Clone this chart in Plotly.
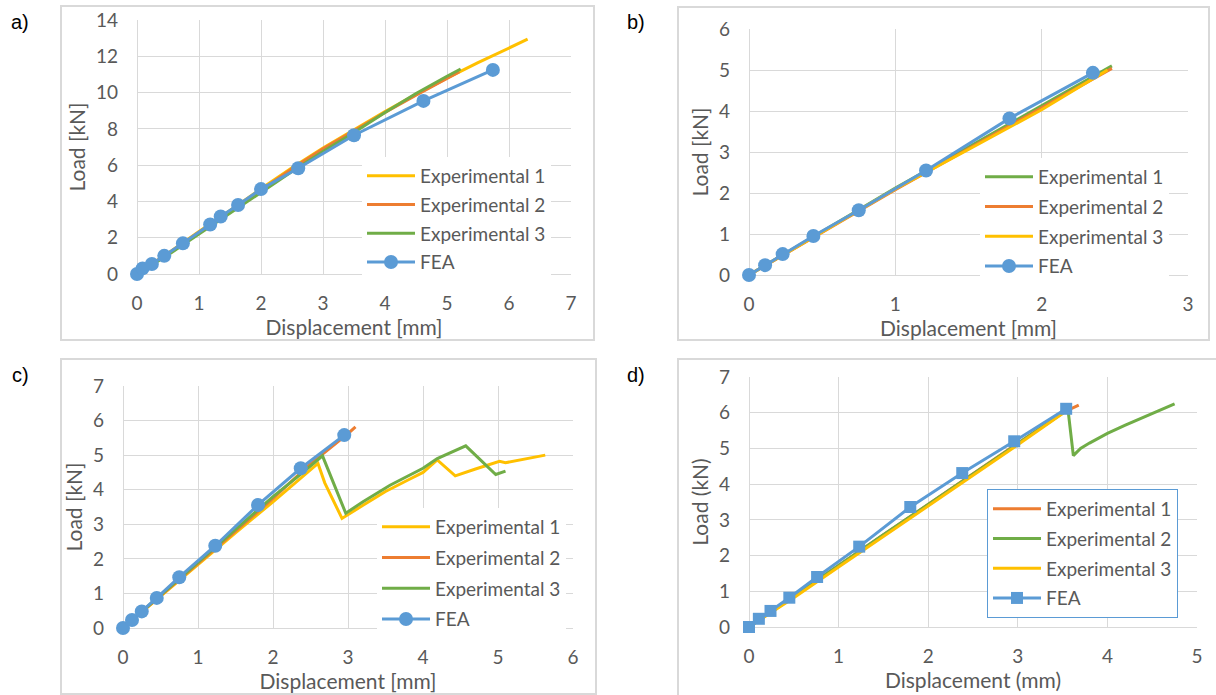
import plotly.graph_objects as go

W, H = 1216, 695

# ---------------- data ----------------
# Panel a)
a_exp1_x = [0, 0.5, 1, 1.5, 2, 2.5, 3, 3.5, 4, 4.5, 5, 5.5, 6, 6.3]
a_exp1_y = [0, 1.15, 2.35, 3.5, 4.7, 5.85, 6.95, 7.95, 8.95, 9.9, 10.8, 11.65, 12.45, 12.94]
a_exp2_x = [0, 0.5, 1, 1.5, 2, 2.5, 3, 3.5, 4, 4.5, 5, 5.2]
a_exp2_y = [0, 1.12, 2.3, 3.45, 4.62, 5.8, 6.9, 7.9, 8.9, 9.85, 10.8, 11.15]
a_exp3_x = [0, 0.5, 1, 1.5, 2, 2.5, 3, 3.5, 4, 4.5, 5, 5.22]
a_exp3_y = [0, 1.05, 2.2, 3.35, 4.5, 5.65, 6.75, 7.8, 8.9, 9.95, 10.9, 11.3]
a_fea_x = [0, 0.09, 0.24, 0.44, 0.74, 1.18, 1.35, 1.63, 2.0, 2.6, 3.5, 4.62, 5.74]
a_fea_y = [0, 0.31, 0.55, 1.0, 1.69, 2.73, 3.17, 3.8, 4.68, 5.83, 7.65, 9.54, 11.25]

# Panel b)
b_exp1_x = [0, 0.5, 1, 1.5, 2, 2.48]
b_exp1_y = [0, 1.07, 2.12, 3.12, 4.14, 5.1]
b_exp2_x = [0, 0.5, 1, 1.5, 2, 2.48]
b_exp2_y = [0, 1.05, 2.08, 3.08, 4.07, 5.04]
b_exp3_x = [0, 0.5, 1, 1.5, 2, 2.45]
b_exp3_y = [0, 1.06, 2.1, 3.06, 4.03, 5.0]
b_fea_x = [0, 0.11, 0.23, 0.44, 0.75, 1.21, 1.78, 2.35]
b_fea_y = [0, 0.24, 0.51, 0.95, 1.58, 2.55, 3.82, 4.93]

# Panel c)
c_exp1_x = [0, 0.5, 1, 1.5, 2, 2.3, 2.6, 2.69, 2.92, 3.2, 3.5, 3.8, 4.0, 4.19,
            4.43, 4.7, 5.0, 5.02, 5.1, 5.3, 5.63]
c_exp1_y = [0, 0.92, 1.85, 2.75, 3.65, 4.2, 4.76, 4.2, 3.17, 3.55, 3.95, 4.28, 4.5, 4.86,
            4.4, 4.6, 4.8, 4.82, 4.78, 4.87, 5.0]
c_exp2_x = [0, 0.5, 1, 1.5, 2, 2.5, 3, 3.1]
c_exp2_y = [0, 0.93, 1.87, 2.8, 3.75, 4.75, 5.62, 5.82]
c_exp3_x = [0, 0.5, 1, 1.5, 2, 2.4, 2.66, 2.97, 3.2, 3.56, 4.0, 4.19, 4.57, 4.97, 5.1]
c_exp3_y = [0, 0.95, 1.9, 2.85, 3.8, 4.5, 4.98, 3.32, 3.65, 4.13, 4.62, 4.9, 5.27, 4.44, 4.54]
c_fea_x = [0, 0.12, 0.25, 0.45, 0.75, 1.23, 1.8, 2.37, 2.95]
c_fea_y = [0, 0.23, 0.48, 0.87, 1.47, 2.38, 3.56, 4.62, 5.58]

# Panel d)
d_exp1_x = [0, 0.5, 1, 1.5, 2, 2.5, 3, 3.5, 3.68]
d_exp1_y = [0, 0.85, 1.72, 2.58, 3.43, 4.3, 5.15, 6.0, 6.21]
d_exp2_x = [0, 0.5, 1, 1.5, 2, 2.5, 3, 3.56, 3.62, 3.7, 3.8, 4.0, 4.2, 4.4, 4.6, 4.75]
d_exp2_y = [0, 0.85, 1.72, 2.58, 3.43, 4.3, 5.15, 6.09, 4.8, 5.0, 5.15, 5.42, 5.65, 5.87, 6.08, 6.25]
d_exp3_x = [0, 0.5, 1, 1.5, 2, 2.5, 3, 3.5, 3.55]
d_exp3_y = [0, 0.82, 1.68, 2.53, 3.38, 4.24, 5.1, 5.98, 6.05]
d_fea_x = [0, 0.11, 0.24, 0.45, 0.76, 1.23, 1.80, 2.38, 2.96, 3.54]
d_fea_y = [0, 0.23, 0.45, 0.82, 1.40, 2.25, 3.36, 4.31, 5.2, 6.11]

series_names = ["Experimental 1", "Experimental 2", "Experimental 3", "FEA"]
panel_labels = ["a)", "b)", "c)", "d)"]
x_titles = ["Displacement [mm]", "Displacement [mm]", "Displacement [mm]", "Displacement (mm)"]
y_titles = ["Load [kN]", "Load [kN]", "Load [kN]", "Load (kN)"]

# ---------------- style ----------------
BLUE = "#5B9BD5"
ORANGE = "#ED7D31"
YELLOW = "#FFC000"
GREEN = "#70AD47"
GRID = "#D9D9D9"
TXT = "#595959"
FONT = "Lato"

def px_x(p):
    return p / W

def px_y(p):
    return 1 - p / H

fig = go.Figure()

panels = [
    dict(xa="x", ya="y", legend="legend",
         exp=[(a_exp1_x, a_exp1_y, YELLOW), (a_exp2_x, a_exp2_y, ORANGE), (a_exp3_x, a_exp3_y, GREEN)],
         fea=(a_fea_x, a_fea_y, "circle")),
    dict(xa="x2", ya="y2", legend="legend2",
         exp=[(b_exp1_x, b_exp1_y, GREEN), (b_exp2_x, b_exp2_y, ORANGE), (b_exp3_x, b_exp3_y, YELLOW)],
         fea=(b_fea_x, b_fea_y, "circle")),
    dict(xa="x3", ya="y3", legend="legend3",
         exp=[(c_exp1_x, c_exp1_y, YELLOW), (c_exp2_x, c_exp2_y, ORANGE), (c_exp3_x, c_exp3_y, GREEN)],
         fea=(c_fea_x, c_fea_y, "circle")),
    dict(xa="x4", ya="y4", legend="legend4",
         exp=[(d_exp1_x, d_exp1_y, ORANGE), (d_exp2_x, d_exp2_y, GREEN), (d_exp3_x, d_exp3_y, YELLOW)],
         fea=(d_fea_x, d_fea_y, "square")),
]

for pi, p in enumerate(panels):
    for si, (xs, ys, col) in enumerate(p["exp"]):
        fig.add_trace(go.Scatter(
            x=xs, y=ys, mode="lines", name=series_names[si],
            line=dict(color=col, width=3), xaxis=p["xa"], yaxis=p["ya"],
            legend=p["legend"], legendgroup=f"p{pi}s{si}", cliponaxis=False,
        ))
    fx, fy, sym = p["fea"]
    fig.add_trace(go.Scatter(
        x=fx, y=fy, mode="lines+markers", name=series_names[3],
        line=dict(color=BLUE, width=3),
        marker=dict(symbol=sym, size=14 if sym == "circle" else 12, color=BLUE),
        xaxis=p["xa"], yaxis=p["ya"], legend=p["legend"],
        legendgroup=f"p{pi}s3", cliponaxis=False,
    ))

# plot-area pixel boxes (left, right, top, bottom)
boxes = [(137, 571, 20, 274), (749, 1188, 29, 275), (123, 573, 386, 628), (749, 1197, 377, 627)]
ranges = [((0, 7), (0, 14), 1, 2), ((0, 3), (0, 6), 1, 1), ((0, 6), (0, 7), 1, 1), ((0, 5), (0, 7), 1, 1)]

layout = dict(
    width=W, height=H, margin=dict(l=0, r=0, t=0, b=0, pad=0, autoexpand=False),
    template="none",
    paper_bgcolor="white", plot_bgcolor="white",
    font=dict(family=FONT, color=TXT, size=18),
    shapes=[], annotations=[],
)

for i, ((l, r, t, b), (xr, yr, dx, dy)) in enumerate(zip(boxes, ranges)):
    sx = "" if i == 0 else str(i + 1)
    layout["xaxis" + sx] = dict(
        domain=[px_x(l), px_x(r)], range=list(xr), dtick=dx, tick0=0,
        anchor="y" + sx, showgrid=True, gridcolor=GRID, gridwidth=1,
        zeroline=True, zerolinecolor=GRID, zerolinewidth=1,
        showline=False, ticks="", ticklabelstandoff=16, automargin=False,
        tickfont=dict(size=19, color=TXT, family=FONT),
        title=dict(text=x_titles[i], font=dict(size=21, color=TXT, family=FONT), standoff=0),
    )
    layout["yaxis" + sx] = dict(
        domain=[px_y(b), px_y(t)], range=list(yr), dtick=dy, tick0=0,
        anchor="x" + sx, showgrid=True, gridcolor=GRID, gridwidth=1,
        zeroline=True, zerolinecolor=GRID, zerolinewidth=1,
        showline=False, ticks="", ticklabelstandoff=18, automargin=False,
        tickfont=dict(size=19, color=TXT, family=FONT),
        title=dict(text=y_titles[i], font=dict(size=21, color=TXT, family=FONT), standoff=4),
    )

# outer frames of each chart
frames = [(61, 594, 6, 340), (678, 1209, 7, 340), (61, 596, 359, 694), (678, 1222, 359, 702)]
for (l, r, t, b) in frames:
    layout["shapes"].append(dict(
        type="rect", xref="paper", yref="paper",
        x0=px_x(l), x1=px_x(r), y0=px_y(b), y1=px_y(t),
        line=dict(color=GRID, width=2), fillcolor="rgba(0,0,0,0)", layer="below",
    ))

# panel labels
label_pos = [(20, 22), (636, 22), (20, 375), (636, 375)]
for lab, (x, y) in zip(panel_labels, label_pos):
    layout["annotations"].append(dict(
        text=lab, xref="paper", yref="paper", x=px_x(x), y=px_y(y),
        xanchor="center", yanchor="middle", showarrow=False,
        font=dict(family="Liberation Sans", size=20, color="black"),
    ))

# legends: (left px, top px, border width, group gap)
leg_pos = [(362, 157, 0, 1), (980, 158, 0, 2), (377, 508, 0, 3), (987, 489, 1, 2)]
for i, (x, y, bw, gap) in enumerate(leg_pos):
    key = "legend" if i == 0 else f"legend{i + 1}"
    leg = dict(
        x=px_x(x), y=px_y(y), xanchor="left", yanchor="top",
        xref="paper", yref="paper",
        bgcolor="white", bordercolor=BLUE if bw else "rgba(0,0,0,0)", borderwidth=bw,
        font=dict(family=FONT, size=19, color=TXT),
        traceorder="grouped", tracegroupgap=gap, itemwidth=48,
    )
    if bw:
        leg["entrywidth"] = 140
    layout[key] = leg

fig.update_layout(**layout)
fig.write_html("out.html", post_script="document.body.style.margin='0';",
               config={"displayModeBar": False})
